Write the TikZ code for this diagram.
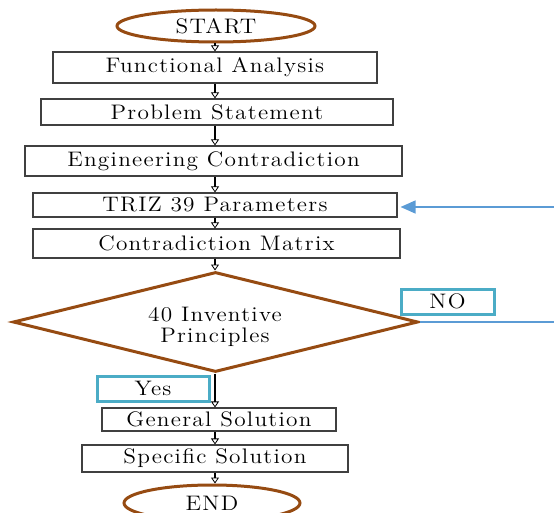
\documentclass[tikz,border=0pt]{standalone}
\usepackage{fontspec}
\newfontfamily\boxfont{lmroman12-regular.otf}[FakeStretch=1.11,LetterSpace=6]
\usetikzlibrary{shapes.geometric,arrows.meta}
\definecolor{brownc}{RGB}{150,75,18}
\definecolor{cyanc}{RGB}{75,172,198}
\definecolor{bluec}{RGB}{91,155,213}
\definecolor{boxc}{RGB}{64,64,64}
\begin{document}
\begin{tikzpicture}[x=1pt,y=-1pt,
  every node/.style={font=\boxfont\fontsize{21}{21}\selectfont, inner sep=0pt, text=black},
  procbox/.style={draw=boxc, line width=1.1pt, rectangle},
  termnode/.style={draw=brownc, line width=3pt, ellipse},
  decnode/.style={draw=brownc, line width=3pt, diamond, aspect=4},
  dectext/.style={align=center},
  tagbox/.style={draw=cyanc, line width=3pt, rectangle},
  flowarr/.style={draw=black, line width=1.3pt, -{Triangle[open, line width=0.8pt, length=6pt, width=8pt]}},
  bluearr/.style={draw=bluec, line width=1.3pt, -{Triangle[length=15pt, width=13pt]}, shorten >=3pt},
  blueline/.style={draw=bluec, line width=1.3pt}
]
\useasboundingbox (0,0) rectangle (554,513);
\coordinate (spine) at (215,0);

\node[termnode, minimum width=198, minimum height=32] (start) at (216,26) {START};
\node[procbox, minimum width=324, minimum height=31] (fa) at (215,67.5) {Functional Analysis};
\node[procbox, minimum width=352, minimum height=26] (ps) at (217,112) {Problem Statement};
\node[procbox, minimum width=377, minimum height=30] (ec) at (213.5,161) {Engineering Contradiction};
\node[procbox, minimum width=364, minimum height=24] (triz) at (215,205) {TRIZ 39 Parameters};
\node[procbox, minimum width=367, minimum height=29] (cm) at (216.5,243.5) {Contradiction Matrix};
\node[decnode, minimum width=405, minimum height=100] (dia) at (215.5,322) {};
\node[dectext] (diatext) at (215,327) {40 Inventive\\Principles};
\node[tagbox, minimum width=93, minimum height=25] (no) at (447.5,301.5) {NO};
\node[tagbox, minimum width=112, minimum height=25] (yes) at (153,388.5) {Yes};
\node[procbox, minimum width=234, minimum height=23] (gs) at (219,419.5) {General Solution};
\node[procbox, minimum width=266, minimum height=27] (ss) at (215,458.5) {Specific Solution};
\node[termnode, minimum width=176, minimum height=36] (end) at (212,503) {END};

\draw[flowarr] (start.south -| spine) -- (fa.north -| spine);
\draw[flowarr] (fa.south -| spine) -- (ps.north -| spine);
\draw[flowarr] (ps.south -| spine) -- (ec.north -| spine);
\draw[flowarr] (ec.south -| spine) -- (triz.north -| spine);
\draw[flowarr] (triz.south -| spine) -- (cm.north -| spine);
\draw[flowarr] (cm.south -| spine) -- (dia.north -| spine);
\draw[flowarr] (dia.south -| spine) -- (gs.north -| spine);
\draw[flowarr] (gs.south -| spine) -- (ss.north -| spine);
\draw[flowarr] (ss.south -| spine) -- (end.north -| spine);

\coordinate (loopA) at (554,207);
\coordinate (loopB) at (554,322);
\draw[bluearr] (loopA) -- (triz.east |- loopA);
\draw[blueline] (dia.east) -- (loopB);
\end{tikzpicture}
\end{document}
